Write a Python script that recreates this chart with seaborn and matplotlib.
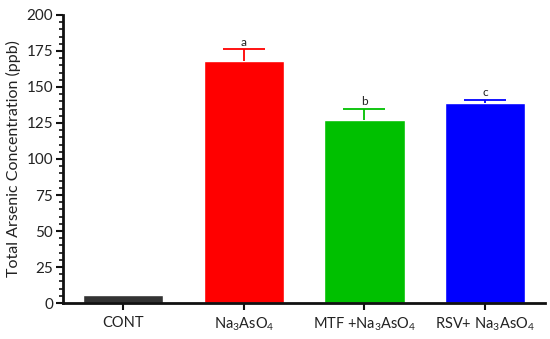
import matplotlib
matplotlib.use("Agg")
import matplotlib.pyplot as plt
import seaborn as sns
import numpy as np
import pandas as pd

categories = ["CONT", "Na$_3$AsO$_4$", "MTF +Na$_3$AsO$_4$", "RSV+ Na$_3$AsO$_4$"]
values = [5.5, 168, 127, 139]
errors = [0, 8, 8, 2]
letters = ["", "a", "b", "c"]
colors = ["#333333", "#ff0000", "#00c000", "#0000ff"]

sns.set_style("ticks")
plt.rcParams["font.family"] = ["Lato", "DejaVu Sans"]
plt.rcParams["mathtext.fontset"] = "custom"
plt.rcParams["mathtext.rm"] = "Lato"
plt.rcParams["mathtext.it"] = "Lato"

df = pd.DataFrame({"group": categories, "value": values})

fig = plt.figure(figsize=(5.5, 3.39), dpi=100)
ax = fig.add_axes([0.1145, 0.106, 0.877, 0.85])

sns.barplot(data=df, x="group", y="value", hue="group", palette=colors,
            width=0.667, ax=ax, legend=False, saturation=1, errorbar=None)

x = np.arange(len(categories))
for i in range(len(categories)):
    if errors[i] > 0:
        eb = ax.errorbar(x[i], values[i], yerr=[[0], [errors[i]]], fmt="none",
                         ecolor=colors[i], elinewidth=1.3, capsize=14.8, capthick=1.3)
        caps = eb[1]
        if len(caps) > 1:
            caps[0].set_visible(False)
        ax.text(x[i], values[i] + errors[i] + 1.2, letters[i], ha="center",
                va="bottom", fontsize=8.5, color="#222222")

ax.set_xlim(-0.5, 3.5)
ax.set_ylim(0, 200)
ax.set_yticks(np.arange(0, 201, 25))
ax.set_yticks(np.arange(0, 201, 5), minor=True)
ax.set_xlabel("")
ax.set_ylabel("Total Arsenic Concentration (ppb)", fontsize=11.5, color="#222222",
              labelpad=4)
ax.tick_params(axis="y", which="major", labelsize=11, width=1.5, length=5,
               colors="#111111", pad=2)
ax.tick_params(axis="x", which="major", labelsize=10.5, width=1.5, length=5,
               colors="#111111", pad=4)
ax.tick_params(axis="y", which="minor", width=1.2, length=3, colors="#111111")
for lbl in ax.get_xticklabels() + ax.get_yticklabels():
    lbl.set_color("#222222")
for s in ["left", "bottom"]:
    ax.spines[s].set_linewidth(2)
    ax.spines[s].set_color("#111111")
sns.despine(ax=ax)

fig.savefig("out.png", dpi=100)
